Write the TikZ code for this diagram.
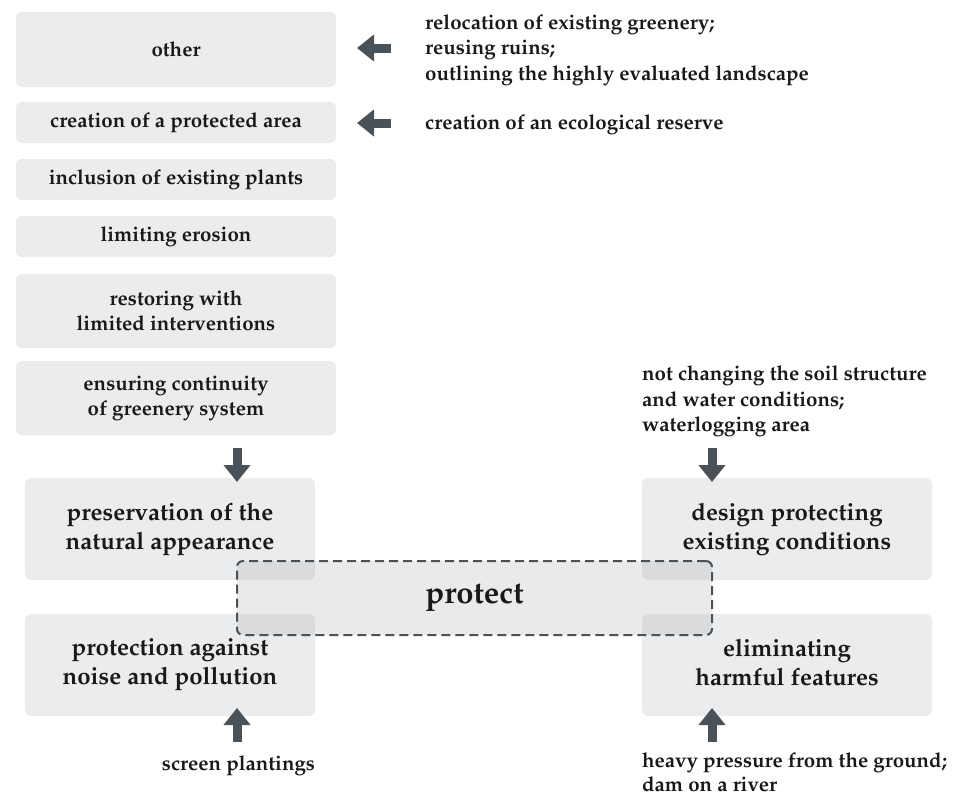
\documentclass[tikz,border=0pt]{standalone}
\usepackage[T1]{fontenc}
\usepackage{mathpazo}
\usetikzlibrary{arrows.meta}
\definecolor{boxgray}{RGB}{235,236,237}
\definecolor{dk}{RGB}{74,82,89}
\definecolor{ov}{RGB}{170,172,176}
\definecolor{txt}{RGB}{25,25,25}
\begin{document}
\begin{tikzpicture}[x=1pt,y=-1pt,
  every node/.style={font=\bfseries, text=txt},
  topbox/.style={fill=boxgray, rounded corners=6pt, inner sep=0pt, align=center,
    minimum width=320pt, font=\bfseries\fontsize{20.5}{25}\selectfont},
  bigbox/.style={fill=boxgray, rounded corners=6pt, inner sep=0pt, align=center,
    minimum width=290pt, minimum height=102pt, font=\bfseries\fontsize{24}{29}\selectfont},
  note/.style={inner sep=0pt, align=left, font=\bfseries\fontsize{20.5}{25.5}\selectfont},
  blockarrow/.style={draw=dk, line width=9pt, -{Triangle[width=26pt,length=17pt]}, color=dk}
]
\useasboundingbox (0,0) rectangle (955,796);

% left column
\node[topbox, minimum height=75pt] (other) at (176,49.5) {other};
\node[topbox, minimum height=41pt] (area) at (176,122.5) {creation of a protected area};
\node[topbox, minimum height=41pt] (incl) at (176,179.5) {inclusion of existing plants};
\node[topbox, minimum height=41pt] (eros) at (176,236.5) {limiting erosion};
\node[topbox, minimum height=74pt] (rest) at (176,311) {restoring with\\limited interventions};
\node[topbox, minimum height=74pt] (cont) at (176,398) {ensuring continuity\\of greenery system};

% big boxes
\node[bigbox] (pres) at (170,529) {preservation of the\\natural appearance};
\node[bigbox] (prot) at (170,665) {protection against\\noise and pollution};
\node[bigbox] (design) at (787,529) {design protecting\\existing conditions};
\node[bigbox] (elim) at (787,665) {};
\node[inner sep=0pt, align=center, font=\bfseries\fontsize{24}{29}\selectfont] (elimtxt) at (787,662) {eliminating\\harmful features};

% central protect box
\node[draw=dk, dashed, dash pattern=on 9pt off 5pt, line width=2pt, fill=ov, fill opacity=0.25,
  text opacity=1, rounded corners=6pt, minimum width=475pt, minimum height=74pt,
  font=\bfseries\fontsize{31}{36}\selectfont] (protect) at (474.5,598) {protect};

% notes
\node[note, anchor=north west] (n1) at (425,14) {relocation of existing greenery;\\reusing ruins;\\outlining the highly evaluated landscape};
\node[note, anchor=west] (n2) at (425,125) {creation of an ecological reserve};
\node[note, anchor=south west] (n3) at (642,437) {not changing the soil structure\\and water conditions;\\waterlogging area};
\node[note, anchor=north] (n4) at (238.5,755) {screen plantings};
\node[note, anchor=north west, font=\bfseries\fontsize{20.5}{24.5}\selectfont] (n5) at (642,752) {heavy pressure from the ground;\\dam on a river};

% arrows
\coordinate (a1s) at (391,48); \coordinate (a1e) at (357,48);
\coordinate (a2s) at (391,123); \coordinate (a2e) at (357,123);
\coordinate (a3s) at (237,448); \coordinate (a3e) at (237,482);
\coordinate (a4s) at (237,742); \coordinate (a4e) at (237,708);
\coordinate (a5s) at (712,448); \coordinate (a5e) at (712,482);
\coordinate (a6s) at (712,742); \coordinate (a6e) at (712,708);
\draw[blockarrow] (a1s) -- (a1e);
\draw[blockarrow] (a2s) -- (a2e);
\draw[blockarrow] (a3s) -- (a3e);
\draw[blockarrow] (a4s) -- (a4e);
\draw[blockarrow] (a5s) -- (a5e);
\draw[blockarrow] (a6s) -- (a6e);
\end{tikzpicture}
\end{document}
